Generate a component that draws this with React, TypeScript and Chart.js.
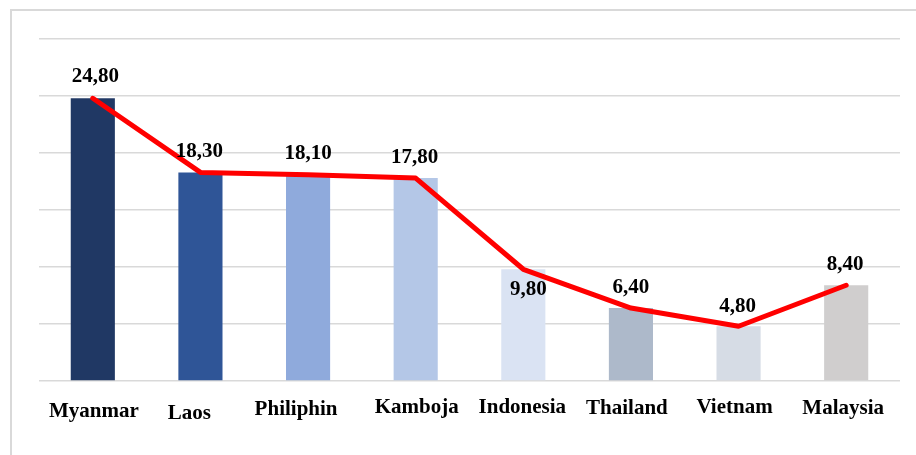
import React, { useEffect, useRef } from "react";
import { Chart, registerables } from "chart.js";

Chart.register(...registerables);

const categories = ["Myanmar", "Laos", "Philiphin", "Kamboja", "Indonesia", "Thailand", "Vietnam", "Malaysia"];
const values = [24.8, 18.3, 18.1, 17.8, 9.8, 6.4, 4.8, 8.4];
const barColors = ["#203864", "#2F5597", "#8FAADC", "#B4C7E7", "#DAE3F3", "#ADB9CA", "#D6DCE5", "#D0CECE"];

// label placement tweaks (style only)
const valueLabelDx = [2.5, -1, 0, -1, 5, 0, -1, -1];
const valueLabelDy = [-16, -15, -15.5, -15, 26, -15, -14, -15];
const catLabelDx = [1, -11, -12, 1, -1, -4, -4, -3];
const catLabelDy = [36, 38, 34, 32, 32, 33, 32, 33];

const FONT = '"Liberation Serif", "Times New Roman", serif';

const labelsPlugin = {
  id: "customLabels",
  beforeDraw(chart: any) {
    const ctx = chart.ctx;
    ctx.save();
    ctx.fillStyle = "#ffffff";
    ctx.fillRect(0, 0, chart.width, chart.height);
    ctx.strokeStyle = "#d9d9d9";
    ctx.lineWidth = 2;
    ctx.strokeRect(11, 10, chart.width + 20, chart.height + 20);
    ctx.restore();
  },
  afterDraw(chart: any) {
    const ctx = chart.ctx;
    const x = chart.scales.x;
    const y = chart.scales.y;
    ctx.save();
    ctx.fillStyle = "#000000";
    ctx.textAlign = "center";
    ctx.textBaseline = "alphabetic";
    ctx.font = `bold 21px ${FONT}`;
    values.forEach((v, i) => {
      const px = x.getPixelForValue(i);
      const py = y.getPixelForValue(v);
      ctx.fillText(v.toFixed(2).replace(".", ","), px + valueLabelDx[i], py + valueLabelDy[i]);
    });
    const base = y.getPixelForValue(0);
    categories.forEach((c, i) => {
      const px = x.getPixelForValue(i);
      ctx.fillText(c, px + catLabelDx[i], base + catLabelDy[i]);
    });
    ctx.restore();
  },
};

export default function App() {
  const ref = useRef<HTMLCanvasElement | null>(null);
  useEffect(() => {
    if (!ref.current) return;
    const chart = new Chart(ref.current, {
      type: "bar",
      data: {
        labels: categories,
        datasets: [
          {
            type: "line",
            data: values,
            borderColor: "#FF0000",
            borderWidth: 5,
            pointRadius: 0,
            tension: 0,
            borderJoinStyle: "round",
            borderCapStyle: "round",
            order: 0,
          } as any,
          {
            type: "bar",
            data: values,
            backgroundColor: barColors,
            barPercentage: 0.41,
            categoryPercentage: 1,
            order: 1,
          },
        ],
      },
      options: {
        animation: false,
        responsive: true,
        maintainAspectRatio: false,
        layout: { padding: { left: 39, top: 39, right: 16, bottom: 74 } },
        plugins: { legend: { display: false }, tooltip: { enabled: false } },
        scales: {
          x: { display: false, offset: true },
          y: {
            min: 0,
            max: 30,
            ticks: { display: false, stepSize: 5 },
            grid: { color: "#d9d9d9", lineWidth: 1.5, drawTicks: false },
            border: { display: false },
          },
        },
      },
      plugins: [labelsPlugin],
    });
    return () => chart.destroy();
  }, []);
  return (
    <div style={{ position: "fixed", left: 0, top: 0, width: 916, height: 455 }}>
      <canvas ref={ref} />
    </div>
  );
}
